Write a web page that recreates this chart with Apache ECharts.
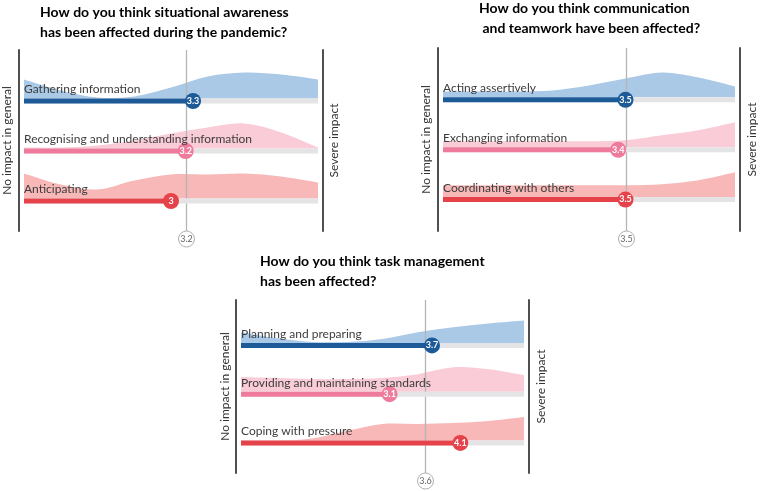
<!DOCTYPE html>
<html>
<head>
<meta charset="utf-8">
<script src="https://cdn.jsdelivr.net/npm/echarts@6/dist/echarts.min.js"></script>
<style>
html,body{margin:0;padding:0;background:#fff;}
#chart{width:762px;height:491px;}
</style>
</head>
<body>
<div id="chart"></div>
<script>
// ---------- data ----------
// response scale sample points (1 = no impact, 5 = severe impact)
const scalePoints = [1, 1.5, 2, 2.5, 3, 3.5, 4, 4.5, 5];

// Panel 1: situational awareness
const saTitle = 'How do you think situational awareness\nhas been affected during the pandemic?';
const saCategories = ['Gathering information', 'Recognising and understanding information', 'Anticipating'];
const saValues = [3.3, 3.2, 3];
const saMean = 3.2;
const saDensityGathering = [19, 8, 1, 2, 11, 22, 26, 24, 19];
const saDensityRecognising = [1, 1, 3, 8, 15, 21, 25, 16, 1];
const saDensityAnticipating = [25, 14, 9, 18, 24, 24, 25, 22, 16];

// Panel 2: communication and teamwork
const ctTitle = 'How do you think communication\n and teamwork have been affected?';
const ctCategories = ['Acting assertively', 'Exchanging information', 'Coordinating with others'];
const ctValues = [3.5, 3.4, 3.5];
const ctMean = 3.5;
const ctDensityAssertive = [6, 6, 6, 7, 12, 19, 25, 20, 11];
const ctDensityExchanging = [6, 6, 6, 6, 6, 7, 12, 17, 25];
const ctDensityCoordinating = [12, 12, 12, 12, 12, 12, 13, 17, 25];

// Panel 3: task management
const tmTitle = 'How do you think task management\nhas been affected?';
const tmCategories = ['Planning and preparing', 'Providing and maintaining standards', 'Coping with pressure'];
const tmValues = [3.7, 3.1, 4.1];
const tmMean = 3.6;
const tmDensityPlanning = [11, 5, 1, 1, 4, 11, 16, 20, 23];
const tmDensityStandards = [15, 14, 13, 13, 14, 18, 25, 23, 17];
const tmDensityCoping = [0, 0, 2, 10, 17, 17, 18, 20, 24];

const axisLeftName = 'No impact in general';
const axisRightName = 'Severe impact';

// ---------- styling / layout ----------
const barColors = ['#1c5a98', '#ee7b9c', '#e6424a'];
const areaColors = ['#a9c9e7', '#f9ccd7', '#f8b8b8'];
const RIDGE_SCALE = 1 / 50; // density units -> row units
const FONT = 'Lato, "Open Sans", sans-serif';

const panels = [
  { title: saTitle, cats: saCategories, vals: saValues, mean: saMean,
    dens: [saDensityGathering, saDensityRecognising, saDensityAnticipating],
    grid: { left: 24, top: 50, width: 294, height: 181 }, yMin: -0.65, yMax: 2.97,
    titlePos: { left: 35, top: -3 }, nameGapL: 6, nameGapR: 5 },
  { title: ctTitle, cats: ctCategories, vals: ctValues, mean: ctMean,
    dens: [ctDensityAssertive, ctDensityExchanging, ctDensityCoordinating],
    grid: { left: 443, top: 48, width: 292, height: 183 }, yMin: -0.68, yMax: 2.99,
    titlePos: { left: 474, top: -7 }, nameGapL: 6, nameGapR: 6 },
  { title: tmTitle, cats: tmCategories, vals: tmValues, mean: tmMean,
    dens: [tmDensityPlanning, tmDensityStandards, tmDensityCoping],
    grid: { left: 241, top: 300, width: 283, height: 173 }, yMin: -0.667, yMax: 2.88,
    titlePos: { left: 255, top: 246 }, nameGapL: 5, nameGapR: 6 }
];

const option = {
  animation: false,
  backgroundColor: '#fff',
  title: [], grid: [], xAxis: [], yAxis: [], series: []
};

function fmt(v) { return String(Math.round(v * 10) / 10); }

// smooth ridge outline (Catmull-Rom -> cubic Bezier) through pixel points
function ridgePath(pts, b0, b1) {
  let d = 'M' + b0[0] + ' ' + b0[1] + ' L' + pts[0][0] + ' ' + pts[0][1];
  for (let k = 0; k < pts.length - 1; k++) {
    const p0 = pts[Math.max(0, k - 1)], p1 = pts[k], p2 = pts[k + 1], p3 = pts[Math.min(pts.length - 1, k + 2)];
    const c1x = p1[0] + (p2[0] - p0[0]) / 6, c1y = p1[1] + (p2[1] - p0[1]) / 6;
    const c2x = p2[0] - (p3[0] - p1[0]) / 6, c2y = p2[1] - (p3[1] - p1[1]) / 6;
    d += ' C' + c1x + ' ' + c1y + ' ' + c2x + ' ' + c2y + ' ' + p2[0] + ' ' + p2[1];
  }
  d += ' L' + b1[0] + ' ' + b1[1] + ' Z';
  return d;
}

panels.forEach((p, g) => {
  option.title.push({
    text: p.title, left: p.titlePos.left, top: p.titlePos.top,
    textStyle: { fontFamily: FONT, fontWeight: 'bold', fontSize: 14, color: '#000', lineHeight: 20 }
  });
  option.grid.push(Object.assign({ containLabel: false }, p.grid));
  option.xAxis.push({ type: 'value', gridIndex: g, min: 1, max: 5, show: false });
  const yBase = {
    type: 'value', gridIndex: g, min: p.yMin, max: p.yMax,
    axisLine: { show: true, onZero: false, lineStyle: { color: '#505050', width: 2 } },
    axisTick: { show: false }, axisLabel: { show: false }, splitLine: { show: false },
    nameLocation: 'middle', nameRotate: 90,
    nameTextStyle: { fontFamily: FONT, fontSize: 12, color: '#333' }
  };
  option.yAxis.push(Object.assign({}, yBase, { position: 'left', offset: 5, name: axisLeftName, nameGap: p.nameGapL }));
  option.yAxis.push(Object.assign({}, yBase, { position: 'right', offset: 5, name: axisRightName, nameGap: p.nameGapR }));
  const yi = g * 2;

  // ridges (one item per row: [rowY, density...])
  option.series.push({
    type: 'custom', xAxisIndex: g, yAxisIndex: yi, z: 2, silent: true,
    encode: { y: 0 },
    data: p.dens.map((d, i) => [2 - i].concat(d)),
    renderItem: function (params, api) {
      const r = api.value(0);
      const i = params.dataIndex;
      const pts = scalePoints.map((x, k) => api.coord([x, r + api.value(k + 1) * RIDGE_SCALE]));
      const b0 = api.coord([1, r]), b1 = api.coord([5, r]);
      return { type: 'path', shape: { pathData: ridgePath(pts, b0, b1) },
        style: { fill: areaColors[i], stroke: null } };
    }
  });

  // mean line + label
  option.series.push({
    type: 'custom', xAxisIndex: g, yAxisIndex: yi, z: 3, silent: true,
    data: [[p.mean, 0]],
    renderItem: function (params, api) {
      const cs = params.coordSys;
      const pt = api.coord([api.value(0), 0]);
      const x = Math.round(pt[0]) + 0.5;
      const yb = cs.y + cs.height;
      return { type: 'group', children: [
        { type: 'line', shape: { x1: x, y1: cs.y, x2: x, y2: yb }, style: { stroke: '#b5b5b5', lineWidth: 1.3 } },
        { type: 'circle', shape: { cx: x, cy: yb + 8, r: 8 }, style: { fill: '#fff', stroke: '#b0b0b0', lineWidth: 1 } },
        { type: 'text', style: { x: x, y: yb + 8, text: fmt(api.value(0)), align: 'center', verticalAlign: 'middle',
          fill: '#666', font: '9px ' + FONT } }
      ]};
    }
  });

  // bars, markers, labels
  option.series.push({
    type: 'custom', xAxisIndex: g, yAxisIndex: yi, z: 4, silent: true,
    encode: { x: 0, y: 1 },
    data: p.vals.map((v, i) => [v, 2 - i, i]),
    renderItem: function (params, api) {
      const v = api.value(0), r = api.value(1), i = api.value(2);
      const s = api.coord([1, r]), e = api.coord([v, r]), f = api.coord([5, r]);
      const y0 = s[1];
      return { type: 'group', children: [
        { type: 'rect', shape: { x: s[0], y: y0, width: f[0] - s[0], height: 5 }, style: { fill: '#e4e4e6' } },
        { type: 'rect', shape: { x: s[0], y: y0, width: e[0] - s[0], height: 5 }, style: { fill: barColors[i] } },
        { type: 'circle', shape: { cx: e[0], cy: y0 + 2.5, r: 8 }, style: { fill: barColors[i] } },
        { type: 'text', style: { x: e[0], y: y0 + 2.5, text: fmt(v), align: 'center', verticalAlign: 'middle',
          fill: '#fff', font: 'bold 9px ' + FONT } },
        { type: 'text', style: { x: s[0], y: y0 - 9, text: p.cats[i], align: 'left', verticalAlign: 'middle',
          fill: '#3c3c3c', font: '12px ' + FONT } }
      ]};
    }
  });
});

const chart = echarts.init(document.getElementById('chart'), null, { renderer: 'canvas' });
chart.setOption(option);
</script>
</body>
</html>
